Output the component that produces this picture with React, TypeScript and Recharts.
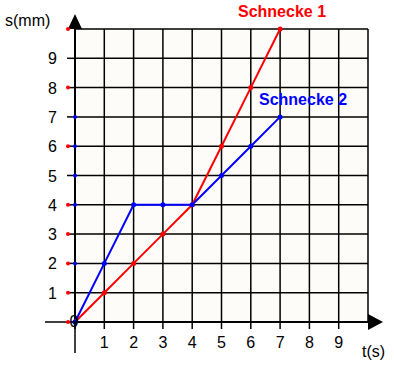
import React from 'react';
import { LineChart, Line, XAxis, YAxis, CartesianGrid, ReferenceLine } from 'recharts';

const tValues = [0, 1, 2, 3, 4, 5, 6, 7];
const schnecke1 = [0, 1, 2, 3, 4, 6, 8, 10];
const schnecke2 = [0, 2, 4, 4, 4, 5, 6, 7];
const xTicks = [0, 1, 2, 3, 4, 5, 6, 7, 8, 9, 10];
const yTicks = [0, 1, 2, 3, 4, 5, 6, 7, 8, 9, 10];

const data = tValues.map((t, i) => ({ t, s1: schnecke1[i], s2: schnecke2[i] }));

const FONT = '"Liberation Sans", Arial, sans-serif';

const XTick = (props: any) => {
  const { x, y, payload } = props;
  const v = payload.value;
  if (v === 10) {
    return <polygon points={`${x},${y - 8} ${x},${y + 8} ${x + 15},${y}`} fill="#000" />;
  }
  return (
    <g>
      {v === 0 && <line x1={x - 30} y1={y} x2={x} y2={y} stroke="#000" strokeWidth={1.5} />}
      {v === 0 && <line x1={x} y1={y} x2={x} y2={y + 31} stroke="#000" strokeWidth={1.5} />}
      <line x1={x} y1={y} x2={x} y2={y + 7} stroke="#000" strokeWidth={1.5} />
      {v === 0 ? (
        <text x={x - 1} y={y + 5} textAnchor="middle" fontSize={16} fontFamily={FONT} fill="#000">0</text>
      ) : (
        <text x={x} y={y + 26} textAnchor="middle" fontSize={16} fontFamily={FONT} fill="#000">{v}</text>
      )}
    </g>
  );
};

const YTick = (props: any) => {
  const { x, y, payload } = props;
  const v = payload.value;
  return (
    <g>
      {v === 10 && <polygon points={`${x - 7},${y} ${x + 7},${y} ${x},${y - 15}`} fill="#000" />}
      {v !== 10 && v !== 0 && <line x1={x - 8} y1={y} x2={x} y2={y} stroke="#000" strokeWidth={1.5} />}
      {v !== 0 && v !== 10 && (
        <text x={x - 18} y={y + 6} textAnchor="end" fontSize={16} fontFamily={FONT} fill="#000">{v}</text>
      )}
      {schnecke1.includes(v) && <circle cx={x - 7} cy={y} r={2} fill="#ff0000" />}
      {schnecke2.includes(v) && v !== 0 && <circle cx={x} cy={y} r={2} fill="#0000ff" />}
    </g>
  );
};

const label = (text: string, left: number, top: number, color: string, bold: boolean) => (
  <div
    style={{
      position: 'absolute',
      left,
      top,
      color,
      fontFamily: FONT,
      fontSize: 16,
      fontWeight: bold ? 'bold' : 'normal',
      whiteSpace: 'nowrap',
      lineHeight: '16px',
    }}
  >
    {text}
  </div>
);

export default function App() {
  return (
    <div style={{ position: 'absolute', left: 0, top: 0, width: 394, height: 367, background: '#fff' }}>
      <LineChart width={394} height={367} data={data} margin={{ top: 29, right: 26, bottom: 15, left: 45 }}>
        <CartesianGrid stroke="#000" strokeWidth={1.5} fill="#fdfcf9" fillOpacity={1} />
        <XAxis
          dataKey="t"
          type="number"
          domain={[0, 10]}
          ticks={xTicks}
          height={30}
          axisLine={false}
          tickLine={false}
          tickSize={0}
          tickMargin={0}
          tick={(p: any) => <XTick {...p} />}
          interval={0}
        />
        <YAxis
          type="number"
          domain={[0, 10]}
          ticks={yTicks}
          width={30}
          axisLine={false}
          tickLine={false}
          tickSize={0}
          tickMargin={0}
          tick={(p: any) => <YTick {...p} />}
          interval={0}
        />
        <ReferenceLine x={0} stroke="#000" strokeWidth={2} />
        <ReferenceLine y={0} stroke="#000" strokeWidth={2} />
        <Line dataKey="s1" stroke="#ff0000" strokeWidth={2} dot={{ r: 1.5, fill: '#ff0000', stroke: '#ff0000' }} isAnimationActive={false} />
        <Line dataKey="s2" stroke="#0000ff" strokeWidth={2} dot={{ r: 1.5, fill: '#0000ff', stroke: '#0000ff' }} isAnimationActive={false} />
      </LineChart>
      {label('s(mm)', 5, 13, '#000', false)}
      {label('t(s)', 362, 344, '#000', false)}
      {label('Schnecke 1', 238, 4, '#ff0000', true)}
      {label('Schnecke 2', 259, 92, '#0000ff', true)}
    </div>
  );
}
